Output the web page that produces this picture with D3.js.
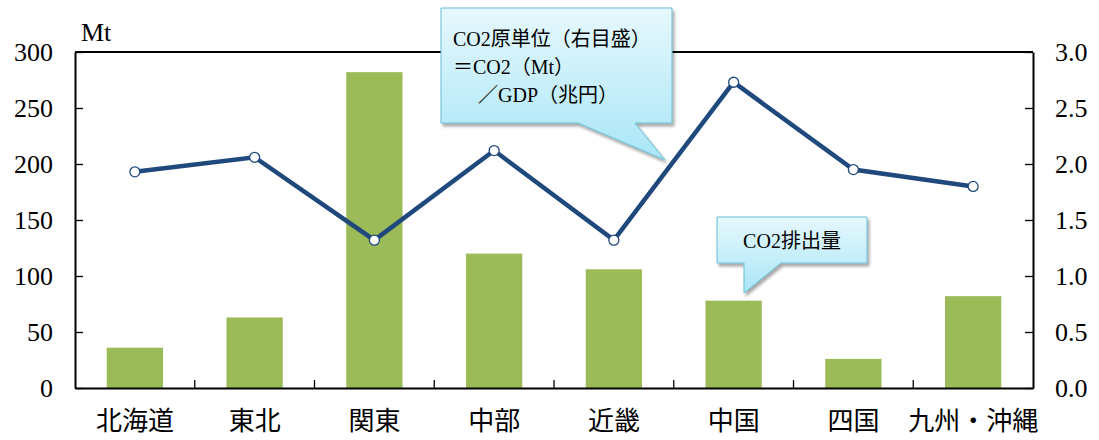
<!DOCTYPE html>
<html><head><meta charset="utf-8">
<script src="https://cdn.jsdelivr.net/npm/d3@7"></script>
<style>body{margin:0;background:#fff}svg{display:block}</style>
</head><body>
<svg id="c" width="1099" height="440"></svg>
<script>
const categories = ["北海道","東北","関東","中部","近畿","中国","四国","九州・沖縄"];
const emissions = [36, 63, 282, 120, 106, 78, 26, 82];
const intensity = [1.93, 2.06, 1.32, 2.12, 1.32, 2.73, 1.95, 1.80];
const leftTicks = [0, 50, 100, 150, 200, 250, 300];
const rightTicks = [0, 0.5, 1.0, 1.5, 2.0, 2.5, 3.0];

const svg = d3.select("#c");
const L = 75, R = 1033, T = 52, B = 388;
const font = "'Liberation Serif','Noto Sans CJK JP',serif";
const x = d3.scaleBand().domain(categories).range([L, R]).paddingInner(0).paddingOuter(0);
const yL = d3.scaleLinear().domain([0, 300]).range([B, T]);
const yR = d3.scaleLinear().domain([0, 3]).range([B, T]);

const defs = svg.append("defs");
const g = defs.append("linearGradient").attr("id","cg").attr("x1",0).attr("y1",0).attr("x2",0).attr("y2",1);
g.append("stop").attr("offset","0%").attr("stop-color","#e6f8fd");
g.append("stop").attr("offset","100%").attr("stop-color","#a9e6f7");
const f = defs.append("filter").attr("id","sh").attr("x","-10%").attr("y","-10%").attr("width","130%").attr("height","130%");
f.append("feGaussianBlur").attr("in","SourceAlpha").attr("stdDeviation",1.5);
f.append("feOffset").attr("dx",2).attr("dy",3).attr("result","o");
f.append("feComponentTransfer").append("feFuncA").attr("type","linear").attr("slope",0.35);
const m = f.append("feMerge"); m.append("feMergeNode"); m.append("feMergeNode").attr("in","SourceGraphic");

// bars
const bw = x.bandwidth() * 0.47;
svg.append("g").selectAll("rect").data(categories).join("rect")
  .attr("x", d => x(d) + x.bandwidth()/2 - bw/2)
  .attr("y", (d,i) => yL(emissions[i]))
  .attr("width", bw)
  .attr("height", (d,i) => B - yL(emissions[i]))
  .attr("fill", "#9bbb59");

// axes
const axL = d3.axisLeft(yL).tickValues(leftTicks).tickSize(-8).tickSizeOuter(0).tickPadding(22).tickFormat(d3.format("d"));
const gL = svg.append("g").attr("transform",`translate(${L},0)`).call(axL);
const axR = d3.axisRight(yR).tickValues(rightTicks).tickSize(-8).tickSizeOuter(0).tickPadding(22).tickFormat(d3.format(".1f"));
const gR = svg.append("g").attr("transform",`translate(${R},0)`).call(axR);
const axB = d3.axisBottom(x).tickSize(0).tickPadding(22);
const gB = svg.append("g").attr("transform",`translate(0,${B})`).call(axB);
[gL,gR,gB].forEach(a=>{
  a.selectAll("text").attr("font-family",font).attr("font-size",26).attr("fill","#000");
  a.selectAll("line").attr("stroke","#000").attr("stroke-width",1.3);
  a.select(".domain").attr("stroke","#000").attr("stroke-width",2);
});
gB.selectAll("text").attr("dy","0.75em");
// category boundary ticks
const bounds = categories.map(c => x(c)).concat([R]);
svg.append("g").selectAll("line").data(bounds.slice(1,-1)).join("line")
  .attr("x1", d=>d).attr("x2", d=>d).attr("y1", B).attr("y2", B-8)
  .attr("stroke","#000").attr("stroke-width",1.3);
// top frame
svg.append("line").attr("x1",L).attr("x2",R).attr("y1",T).attr("y2",T).attr("stroke","#000").attr("stroke-width",2);

svg.append("text").attr("x",81).attr("y",41).attr("font-family",font).attr("font-size",26).text("Mt");

// line
const cx = d => x(d) + x.bandwidth()/2;
svg.append("path").datum(categories)
  .attr("d", d3.line().x(cx).y((d,i) => yR(intensity[i])))
  .attr("fill","none").attr("stroke","#1f497d").attr("stroke-width",4.5).attr("stroke-linejoin","miter");
svg.append("g").selectAll("circle").data(categories).join("circle")
  .attr("cx", cx).attr("cy", (d,i) => yR(intensity[i])).attr("r", 5)
  .attr("fill","#fff").attr("stroke","#1f497d").attr("stroke-width",1.3);

// callouts
function callout(pts, lines, tx, ty, lh, anchor){
  svg.append("path").attr("d", "M" + pts.map(p=>p.join(",")).join("L") + "Z")
    .attr("fill","url(#cg)").attr("stroke","#68bdd6").attr("stroke-width",1).attr("filter","url(#sh)");
  lines.forEach((t,i)=>{
    svg.append("text").attr("x", tx[i]).attr("y", ty + i*lh).attr("font-family",font)
      .attr("font-size",20).attr("text-anchor",anchor).attr("fill","#000").text(t);
  });
}
callout([[441,8],[672,8],[672,123],[635,123],[665,160],[578,123],[441,123]],
  ["CO2原単位（右目盛）","＝CO2（Mt）","／GDP（兆円）"], [453,453,478], 46, 28, "start");
callout([[717,217],[867,217],[867,263],[781,263],[744,293],[744,263],[717,263]],
  ["CO2排出量"], [792], 248, 0, "middle");
</script>
</body></html>
